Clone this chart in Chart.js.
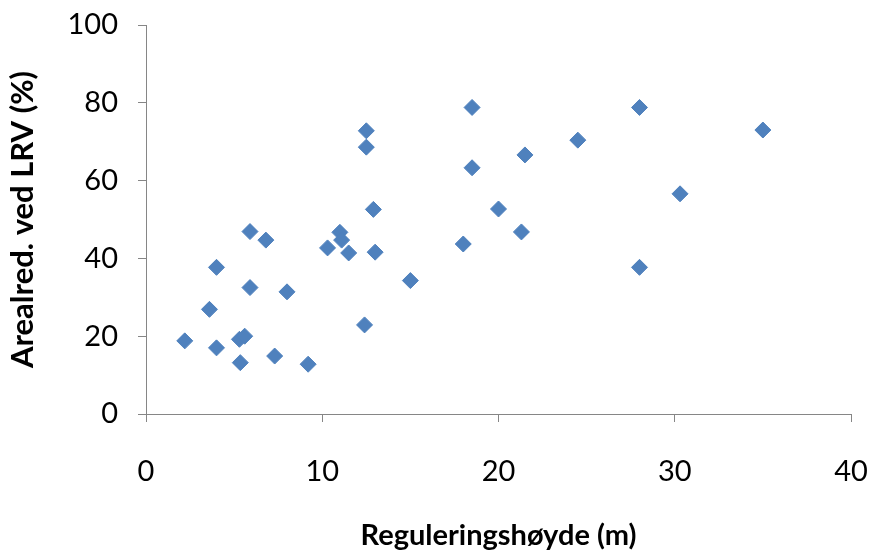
<!DOCTYPE html>
<html>
<head>
<meta charset="utf-8">
<script src="https://cdn.jsdelivr.net/npm/chart.js@4"></script>
<style>
  body { margin: 0; background: #fff; }
  #wrap { width: 870px; height: 553px; }
</style>
</head>
<body>
<div id="wrap"><canvas id="chart"></canvas></div>
<script>
// Reguleringshøyde (m)
const hoyde = [
  2.2, 3.6, 4.0, 4.0, 5.3, 5.6, 5.35, 5.9, 5.9, 6.8, 7.3, 8.0, 9.2, 10.3,
  11.0, 11.1, 11.5, 12.5, 12.5, 12.4, 12.9, 13.0, 15.0, 18.0, 18.5, 18.5,
  20.0, 21.3, 21.5, 24.5, 28.0, 28.0, 30.3, 35.0,
];

// Arealred. ved LRV (%)
const arealred = [
  18.8, 26.9, 37.7, 17.0, 19.2, 20.0, 13.2, 46.9, 32.5, 44.7, 14.9, 31.4,
  12.8, 42.7, 46.7, 44.7, 41.4, 72.8, 68.6, 22.9, 52.6, 41.6, 34.3, 43.7,
  78.8, 63.3, 52.7, 46.8, 66.6, 70.4, 78.8, 37.7, 56.6, 73.0,
];

const xTicks = [0, 10, 20, 30, 40];
const yTicks = [0, 20, 40, 60, 80, 100];

const points = hoyde.map((x, i) => ({ x: x, y: arealred[i] }));

const axisColor = "#868686";
const fontFamily = "Lato, 'Open Sans', sans-serif";

new Chart(document.getElementById("chart").getContext("2d"), {
  type: "scatter",
  data: {
    datasets: [
      {
        label: "Arealred.",
        data: points,
        pointStyle: "rectRot",
        pointRadius: 8,
        pointHoverRadius: 8,
        backgroundColor: "#4F81BD",
        borderColor: "#4F81BD",
        borderWidth: 1,
      },
    ],
  },
  options: {
    responsive: true,
    maintainAspectRatio: false,
    animation: false,
    layout: { padding: { top: 25, right: 19, left: 0, bottom: 0 } },
    plugins: {
      legend: { display: false },
      tooltip: { enabled: false },
    },
    scales: {
      x: {
        type: "linear",
        min: 0,
        max: 40,
        afterBuildTicks: (scale) => {
          scale.ticks = xTicks.map((v) => ({ value: v }));
        },
        afterFit: (scale) => {
          scale.height = 139;
          // no extra room for the overhanging end labels
          scale.paddingLeft = 0;
          scale.paddingRight = 0;
        },
        border: { display: true, color: axisColor, width: 1 },
        grid: {
          drawOnChartArea: false,
          drawTicks: true,
          tickLength: 8,
          color: axisColor,
        },
        ticks: {
          padding: 32,
          color: "#000",
          maxRotation: 0,
          font: { family: fontFamily, size: 29 },
        },
        title: {
          display: true,
          text: "Reguleringshøyde (m)",
          color: "#000",
          padding: { top: 0, bottom: 0 },
          font: { family: fontFamily, size: 29, weight: "bold" },
        },
      },
      y: {
        type: "linear",
        min: 0,
        max: 100,
        afterBuildTicks: (scale) => {
          scale.ticks = yTicks.map((v) => ({ value: v }));
        },
        afterFit: (scale) => {
          scale.width = 146;
          scale.paddingTop = 0;
          scale.paddingBottom = 0;
        },
        border: { display: true, color: axisColor, width: 1 },
        grid: {
          drawOnChartArea: false,
          drawTicks: true,
          tickLength: 8,
          color: axisColor,
        },
        ticks: {
          padding: 20,
          color: "#000",
          font: { family: fontFamily, size: 29 },
        },
        title: {
          display: true,
          text: "Arealred. ved LRV (%)",
          color: "#000",
          padding: { top: 4, bottom: 4 },
          font: { family: fontFamily, size: 31, weight: "bold" },
        },
      },
    },
  },
});
</script>
</body>
</html>
